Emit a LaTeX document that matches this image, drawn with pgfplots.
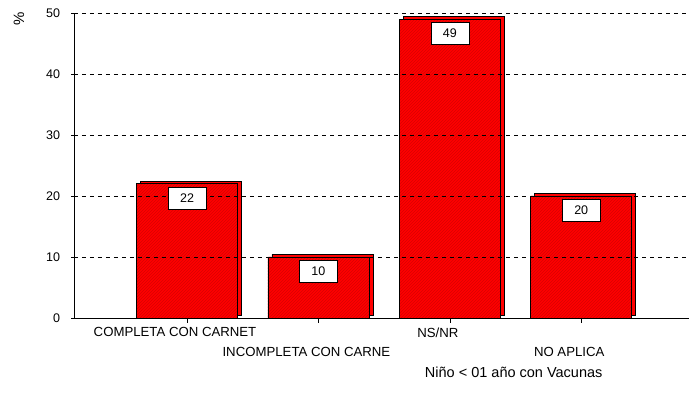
\documentclass[border=0pt]{standalone}
\usepackage{fontspec}
\setmainfont{Liberation Sans}
\usepackage{pgfplots}
\pgfplotsset{compat=1.18}
\usetikzlibrary{patterns,calc}
\begin{document}
\begin{tikzpicture}
\path[use as bounding box] (0pt,0pt) rectangle (689pt,404pt);
\begin{axis}[
  at={(74pt,86pt)}, anchor=south west,
  scale only axis, width=615pt, height=305pt,
  xmin=-0.86, xmax=3.82, ymin=0, ymax=50,
  clip=false,
  axis x line*=bottom, axis y line*=left,
  axis line style={-, black, line width=0.8pt},
  axis on top,
  xtick={0,1,2,3},
  xticklabels={{COMPLETA CON CARNET},{\\INCOMPLETA CON CARNE},{NS/NR},{\\NO APLICA}},
  xticklabel style={align=center, font=\fontsize{13.2}{29}\selectfont, xshift=-12pt, yshift=-1pt},
  ytick={0,10,20,30,40,50},
  yticklabel style={font=\fontsize{12.5}{14}\selectfont, xshift=-8pt},
  /pgf/number format/assume math mode=true,
  xtick align=outside, ytick align=center,
  major tick length=5pt,
  tick style={black, line width=0.6pt},
  ymajorgrids,
  grid style={black, line width=0.6pt, dash pattern=on 4pt off 4pt},
]
\addplot[ybar, bar width=101pt, bar shift=4pt, yshift=2.5pt, fill=red, draw=black, line width=0.6pt]
  coordinates {(0,22) (1,10) (2,49) (3,20)};
\addplot[ybar, bar width=101pt, bar shift=0pt, fill=red, draw=black, line width=0.6pt,
  postaction={pattern=north east lines, pattern color=red!85!black},
  nodes near coords,
  every node near coord/.append style={anchor=north, yshift=-3pt, fill=white, draw=black,
    line width=0.6pt, minimum width=38pt, minimum height=22pt, inner sep=0pt,
    font=\fontsize{12.5}{14}\selectfont, text=black},
  ]
  coordinates {(0,22) (1,10) (2,49) (3,20)};
\node[rotate=90, font=\fontsize{15}{17}\selectfont] at ($(rel axis cs:0,1)+(-55pt,-6pt)$) {\%};
\node[font=\fontsize{14.5}{17}\selectfont] at ($(rel axis cs:0.715,0)+(0pt,-54pt)$) {Niño < 01 año con Vacunas};
\end{axis}
\end{tikzpicture}
\end{document}
